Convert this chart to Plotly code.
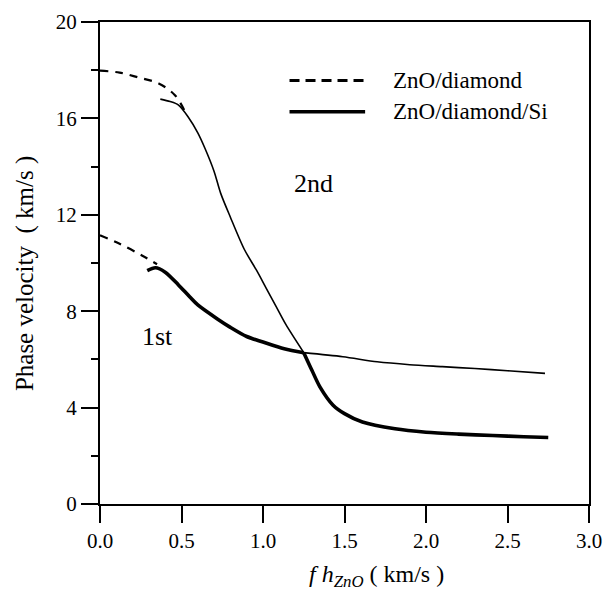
import plotly.graph_objects as go

# ---- data ----
# ZnO/diamond (dashed)
dia_m1_x = [0.00, 0.12, 0.26, 0.35]
dia_m1_y = [11.15, 10.80, 10.30, 9.95]
dia_m2_x = [0.00, 0.12, 0.24, 0.36, 0.46, 0.52]
dia_m2_y = [17.98, 17.90, 17.69, 17.45, 16.96, 16.30]

# ZnO/diamond/Si, lower branch (thick)
si_m1_x = [0.29, 0.34, 0.40, 0.48, 0.55, 0.60, 0.72, 0.80, 0.90, 1.00, 1.13, 1.25,
           1.30, 1.35, 1.43, 1.50, 1.61, 1.81, 2.00, 2.20, 2.41, 2.60, 2.75]
si_m1_y = [9.68, 9.80, 9.62, 9.10, 8.60, 8.26, 7.68, 7.33, 6.95, 6.72, 6.44, 6.28,
           5.55, 4.85, 4.10, 3.75, 3.40, 3.12, 2.98, 2.90, 2.84, 2.79, 2.76]
# ZnO/diamond/Si, upper branch (thin)
si_m2_x = [0.37, 0.43, 0.48, 0.54, 0.60, 0.645, 0.70, 0.74, 0.80, 0.885, 0.96, 1.02,
           1.08, 1.14, 1.25, 1.49, 1.70, 1.90, 2.10, 2.30, 2.50, 2.73]
si_m2_y = [16.80, 16.70, 16.56, 16.07, 15.40, 14.74, 13.80, 12.90, 11.90, 10.57, 9.70,
           8.95, 8.20, 7.45, 6.28, 6.11, 5.90, 5.78, 5.70, 5.62, 5.53, 5.42]
cross_x = 1.25

x_ticks = [0.0, 0.5, 1.0, 1.5, 2.0, 2.5, 3.0]
y_ticks = [0, 4, 8, 12, 16, 20]
legend_names = ["ZnO/diamond", "ZnO/diamond/Si"]
mode_labels = ["1st", "2nd"]
mode_label_pos = [(0.35, 6.95), (1.31, 13.3)]

FONT = "Liberation Serif, Times New Roman, serif"

fig = go.Figure()

def split(xs, ys, xc):
    i = xs.index(xc)
    return (xs[:i + 1], ys[:i + 1]), (xs[i:], ys[i:])

for xs, ys in [(dia_m1_x, dia_m1_y), (dia_m2_x, dia_m2_y)]:
    fig.add_trace(go.Scatter(x=xs, y=ys, mode="lines",
                             line=dict(color="black", width=2.2, dash="8px,7px", shape="spline"),
                             showlegend=False, hoverinfo="skip"))

for xs, ys, w in [(si_m1_x, si_m1_y, 3.6), (si_m2_x, si_m2_y, 1.6)]:
    # each branch drawn in two pieces so the corner at the crossing stays sharp
    for px, py in split(xs, ys, cross_x):
        fig.add_trace(go.Scatter(x=px, y=py, mode="lines",
                                 line=dict(color="black", width=w, shape="spline", smoothing=0.8),
                                 showlegend=False, hoverinfo="skip"))

# ---- legend drawn by hand ----
def px_x(p):
    return (p - 100) / 498.0

def px_y(p):
    return (504 - p) / 494.0

fig.add_shape(type="line", xref="paper", yref="paper",
              x0=px_x(293), x1=px_x(370), y0=px_y(70), y1=px_y(70),
              line=dict(color="black", width=3, dash="10px,6px"))
fig.add_shape(type="line", xref="paper", yref="paper",
              x0=px_x(293), x1=px_x(370), y0=px_y(102), y1=px_y(102),
              line=dict(color="black", width=3.5))
for name, yy in zip(legend_names, [70, 102]):
    fig.add_annotation(text=name, xref="paper", yref="paper", x=px_x(396), y=px_y(yy),
                       xanchor="left", yanchor="middle", showarrow=False,
                       font=dict(family=FONT, size=23, color="black"))

for lab, (lx, ly) in zip(mode_labels, mode_label_pos):
    fig.add_annotation(text=lab, x=lx, y=ly, xref="x", yref="y", showarrow=False,
                       font=dict(family=FONT, size=26, color="black"))

# axis titles
fig.add_annotation(text="Phase velocity  ( km/s )", xref="paper", yref="paper",
                   x=px_x(23), y=px_y(268), textangle=-90, showarrow=False,
                   xanchor="center", yanchor="middle",
                   font=dict(family=FONT, size=25, color="black"))
fig.add_annotation(text="<i>f h</i><sub><i>ZnO</i></sub> ( km/s )", xref="paper", yref="paper",
                   x=px_x(382), y=px_y(578), showarrow=False,
                   xanchor="center", yanchor="middle",
                   font=dict(family=FONT, size=24, color="black"))

fig.update_layout(
    width=612, height=594,
    margin=dict(l=100, r=14, t=10, b=90),
    paper_bgcolor="white", plot_bgcolor="white",
    font=dict(family=FONT, size=21, color="black"),
    xaxis=dict(range=[0, 3.0], tickvals=x_ticks, ticktext=[f"{v:.1f}" for v in x_ticks],
               showgrid=False, zeroline=False, showline=True, linecolor="black", linewidth=2,
               mirror=True, ticks="outside", ticklen=17, tickwidth=2, tickcolor="black",
               tickfont=dict(family=FONT, size=21, color="black")),
    yaxis=dict(range=[0, 20], tickvals=y_ticks,
               showgrid=False, zeroline=False, showline=True, linecolor="black", linewidth=2,
               mirror=True, ticks="outside", ticklen=17, tickwidth=2, tickcolor="black",
               tickfont=dict(family=FONT, size=21, color="black"),
               minor=dict(dtick=2, ticks="outside", ticklen=7, tickwidth=2, tickcolor="black")),
)

fig.write_html("out.html")
